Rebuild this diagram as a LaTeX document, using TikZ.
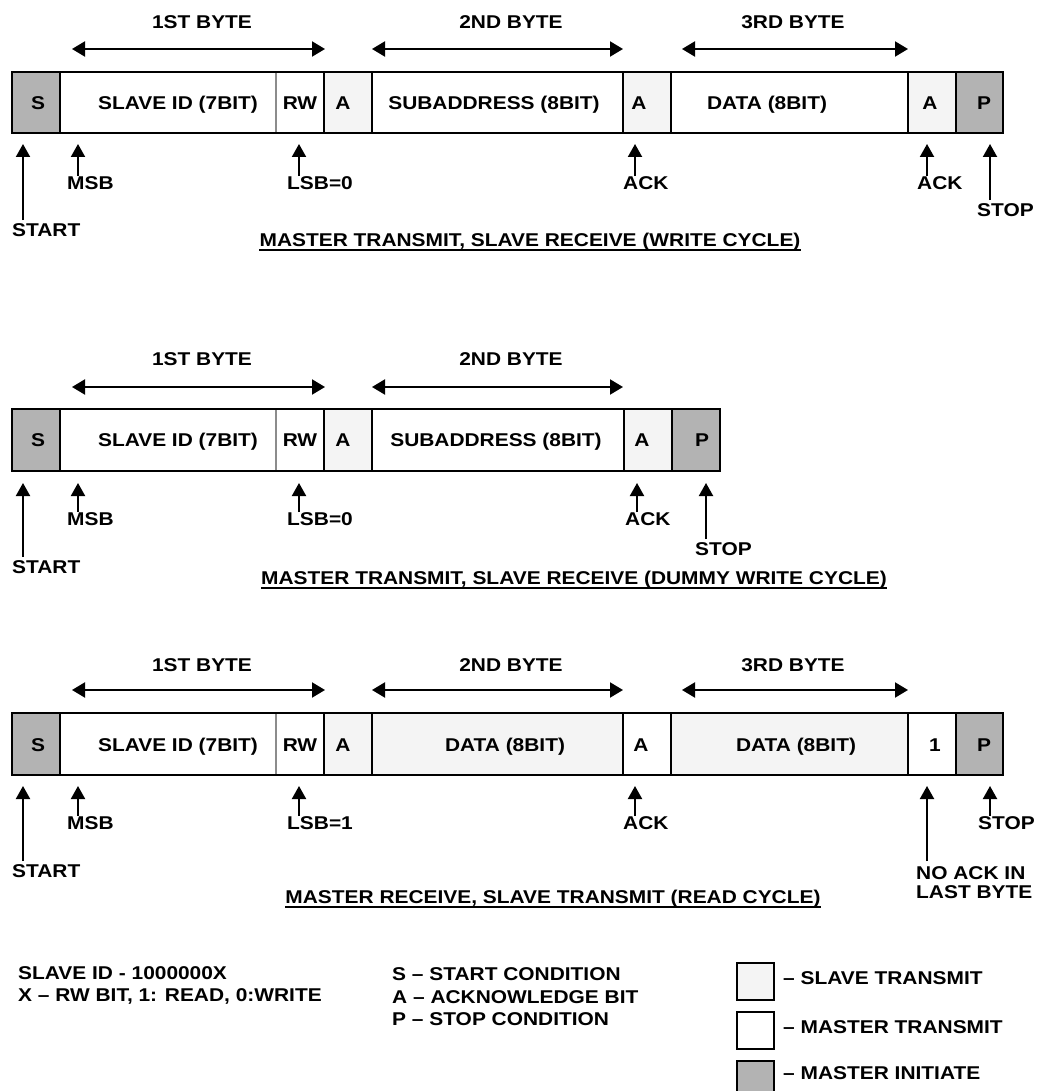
\documentclass[tikz,border=0pt]{standalone}
\usepackage{fontspec}
\setmainfont[FakeStretch=1.13]{Liberation Sans}
\usetikzlibrary{arrows.meta,calc}
\definecolor{mgray}{HTML}{B3B3B3}
\definecolor{slight}{HTML}{F4F4F4}
\definecolor{sepgray}{HTML}{8C8C8C}
\tikzset{
  txt/.style={inner sep=0pt, text height=13.2pt, text depth=0pt, font=\fontsize{18.5}{22}\selectfont\bfseries},
  lbl/.style={txt, anchor=west},
  cellbox/.style={inner sep=0pt, minimum height=61pt, draw=none},
  frame/.style={line width=2pt},
  sepline/.style={line width=2pt},
  thinsep/.style={line width=1.5pt, draw=sepgray},
  upar/.style={line width=2pt, -{Triangle[length=13pt,width=14pt]}},
  bytear/.style={line width=2pt, {Triangle[length=13pt,width=15pt]}-{Triangle[length=13pt,width=15pt]}},
  legbox/.style={draw, line width=2pt, minimum width=37pt, minimum height=37pt, inner sep=0pt},
  uline/.style={line width=2.3pt},
}
\newcommand\bcell[6]{%
  \node[cellbox, fill=#4, minimum width={(#3-#2)*1pt}] (#1) at ({(#2+#3)/2},#5) {};}
\begin{document}
\begin{tikzpicture}[x=1pt,y=-1pt]
\useasboundingbox[fill=white] (0,0) rectangle (1048,1091);

% ================= ROW A : WRITE CYCLE =================
\bcell{aS}{12}{60}{mgray}{102.5}{}
\bcell{aID}{60}{276}{white}{102.5}{}
\bcell{aRW}{276}{324}{white}{102.5}{}
\bcell{aA1}{324}{372}{slight}{102.5}{}
\bcell{aSUB}{372}{623}{white}{102.5}{}
\bcell{aA2}{623}{671}{slight}{102.5}{}
\bcell{aDAT}{671}{908}{white}{102.5}{}
\bcell{aA3}{908}{956}{slight}{102.5}{}
\bcell{aP}{956}{1003}{mgray}{102.5}{}
\draw[thinsep] (aID.north east) -- (aID.south east);
\foreach \c in {aS,aRW,aA1,aSUB,aA2,aDAT,aA3}{\draw[sepline] (\c.north east) -- (\c.south east);}
\draw[frame] (aS.north west) rectangle (aP.south east);
\node[txt] (aSt) at (38,102.5) {S};
\node[txt] (aIDt) at (178,102.5) {SLAVE ID (7BIT)};
\node[txt] (aRWt) at (300,102.5) {RW};
\node[txt] (aA1t) at (343,102.5) {A};
\node[txt] (aSUBt) at (494,102.5) {SUBADDRESS (8BIT)};
\node[txt] (aA2t) at (639,102.5) {A};
\node[txt] (aDATt) at (767,102.5) {DATA (8BIT)};
\node[txt] (aA3t) at (930,102.5) {A};
\node[txt] (aPt) at (984,102.5) {P};
% byte arrows
\node[txt] (aB1) at (202,22) {1ST BYTE};
\node[txt] (aB2) at (511,22) {2ND BYTE};
\node[txt] (aB3) at (793,22) {3RD BYTE};
\coordinate (aB1l) at (72,49); \coordinate (aB1r) at (325,49);
\coordinate (aB2l) at (372,49); \coordinate (aB2r) at (623,49);
\coordinate (aB3l) at (682,49); \coordinate (aB3r) at (908,49);
\draw[bytear] (aB1l) -- (aB1r);
\draw[bytear] (aB2l) -- (aB2r);
\draw[bytear] (aB3l) -- (aB3r);
% pointers
\node[lbl] (aStart) at (12,230) {START};
\node[lbl] (aMsb) at (67,183) {MSB};
\node[lbl] (aLsb) at (287,183) {LSB=0};
\node[lbl] (aAck1) at (623,183) {ACK};
\node[lbl] (aAck2) at (917,183) {ACK};
\node[lbl] (aStop) at (977,210) {STOP};
\coordinate (aTs) at (23,144); \coordinate (aTm) at (78,144);
\coordinate (aTl) at (299,144); \coordinate (aTa1) at (635,144);
\coordinate (aTa2) at (927,144); \coordinate (aTp) at (990,144);
\draw[upar] ($(aStart.north -| aTs)+(0,-3)$) -- (aTs);
\draw[upar] (aMsb.north -| aTm) -- (aTm);
\draw[upar] (aLsb.north -| aTl) -- (aTl);
\draw[upar] (aAck1.north -| aTa1) -- (aTa1);
\draw[upar] (aAck2.north -| aTa2) -- (aTa2);
\draw[upar] ($(aStop.north -| aTp)+(0,-3)$) -- (aTp);
\node[txt] (aTitle) at (530,240) {MASTER TRANSMIT, SLAVE RECEIVE (WRITE CYCLE)};
\draw[uline] ($(aTitle.south west)+(0,3.5)$) -- ($(aTitle.south east)+(0,3.5)$);

% ================= ROW B : DUMMY WRITE =================
\bcell{bS}{12}{60}{mgray}{440}{}
\bcell{bID}{60}{276}{white}{440}{}
\bcell{bRW}{276}{324}{white}{440}{}
\bcell{bA1}{324}{372}{slight}{440}{}
\bcell{bSUB}{372}{624}{white}{440}{}
\bcell{bA2}{624}{672}{slight}{440}{}
\bcell{bP}{672}{720}{mgray}{440}{}
\draw[thinsep] (bID.north east) -- (bID.south east);
\foreach \c in {bS,bRW,bA1,bSUB,bA2}{\draw[sepline] (\c.north east) -- (\c.south east);}
\draw[frame] (bS.north west) rectangle (bP.south east);
\node[txt] (bSt) at (38,440) {S};
\node[txt] (bIDt) at (178,440) {SLAVE ID (7BIT)};
\node[txt] (bRWt) at (300,440) {RW};
\node[txt] (bA1t) at (343,440) {A};
\node[txt] (bSUBt) at (496,440) {SUBADDRESS (8BIT)};
\node[txt] (bA2t) at (642,440) {A};
\node[txt] (bPt) at (702,440) {P};
\node[txt] (bB1) at (202,359) {1ST BYTE};
\node[txt] (bB2) at (511,359) {2ND BYTE};
\coordinate (bB1l) at (72,387); \coordinate (bB1r) at (325,387);
\coordinate (bB2l) at (372,387); \coordinate (bB2r) at (623,387);
\draw[bytear] (bB1l) -- (bB1r);
\draw[bytear] (bB2l) -- (bB2r);
\node[lbl] (bStart) at (12,567) {START};
\node[lbl] (bMsb) at (67,519) {MSB};
\node[lbl] (bLsb) at (287,519) {LSB=0};
\node[lbl] (bAck1) at (625,519) {ACK};
\node[lbl] (bStop) at (695,549) {STOP};
\coordinate (bTs) at (23,483); \coordinate (bTm) at (78,483);
\coordinate (bTl) at (299,483); \coordinate (bTa1) at (637,483);
\coordinate (bTp) at (706,483);
\draw[upar] ($(bStart.north -| bTs)+(0,-3)$) -- (bTs);
\draw[upar] (bMsb.north -| bTm) -- (bTm);
\draw[upar] (bLsb.north -| bTl) -- (bTl);
\draw[upar] (bAck1.north -| bTa1) -- (bTa1);
\draw[upar] ($(bStop.north -| bTp)+(0,-3)$) -- (bTp);
\node[txt] (bTitle) at (574,578) {MASTER TRANSMIT, SLAVE RECEIVE (DUMMY WRITE CYCLE)};
\draw[uline] ($(bTitle.south west)+(0,3.5)$) -- ($(bTitle.south east)+(0,3.5)$);

% ================= ROW C : READ CYCLE =================
\bcell{cS}{12}{60}{mgray}{744}{}
\bcell{cID}{60}{276}{white}{744}{}
\bcell{cRW}{276}{324}{white}{744}{}
\bcell{cA1}{324}{372}{slight}{744}{}
\bcell{cD1}{372}{623}{slight}{744}{}
\bcell{cA2}{623}{671}{white}{744}{}
\bcell{cD2}{671}{908}{slight}{744}{}
\bcell{cOne}{908}{956}{white}{744}{}
\bcell{cP}{956}{1003}{mgray}{744}{}
\draw[thinsep] (cID.north east) -- (cID.south east);
\foreach \c in {cS,cRW,cA1,cD1,cA2,cD2,cOne}{\draw[sepline] (\c.north east) -- (\c.south east);}
\draw[frame] (cS.north west) rectangle (cP.south east);
\node[txt] (cSt) at (38,745) {S};
\node[txt] (cIDt) at (178,745) {SLAVE ID (7BIT)};
\node[txt] (cRWt) at (300,745) {RW};
\node[txt] (cA1t) at (343,745) {A};
\node[txt] (cD1t) at (505,745) {DATA (8BIT)};
\node[txt] (cA2t) at (641,745) {A};
\node[txt] (cD2t) at (796,745) {DATA (8BIT)};
\node[txt] (cOnet) at (935,745) {1};
\node[txt] (cPt) at (984,745) {P};
\node[txt] (cB1) at (202,665) {1ST BYTE};
\node[txt] (cB2) at (511,665) {2ND BYTE};
\node[txt] (cB3) at (793,665) {3RD BYTE};
\coordinate (cB1l) at (72,690); \coordinate (cB1r) at (325,690);
\coordinate (cB2l) at (372,690); \coordinate (cB2r) at (623,690);
\coordinate (cB3l) at (682,690); \coordinate (cB3r) at (908,690);
\draw[bytear] (cB1l) -- (cB1r);
\draw[bytear] (cB2l) -- (cB2r);
\draw[bytear] (cB3l) -- (cB3r);
\node[lbl] (cStart) at (12,871) {START};
\node[lbl] (cMsb) at (67,823) {MSB};
\node[lbl] (cLsb) at (287,823) {LSB=1};
\node[lbl] (cAck1) at (623,823) {ACK};
\node[lbl] (cNo1) at (916,873) {NO ACK IN};
\node[lbl] (cNo2) at (916,892) {LAST BYTE};
\node[lbl] (cStop) at (978,823) {STOP};
\coordinate (cTs) at (23,786); \coordinate (cTm) at (78,786);
\coordinate (cTl) at (299,786); \coordinate (cTa1) at (635,786);
\coordinate (cTn) at (927,786); \coordinate (cTp) at (990,786);
\draw[upar] ($(cStart.north -| cTs)+(0,-3)$) -- (cTs);
\draw[upar] (cMsb.north -| cTm) -- (cTm);
\draw[upar] (cLsb.north -| cTl) -- (cTl);
\draw[upar] (cAck1.north -| cTa1) -- (cTa1);
\draw[upar] ($(cNo1.north -| cTn)+(0,-5)$) -- (cTn);
\draw[upar] (cStop.north -| cTp) -- (cTp);
\node[txt] (cTitle) at (553,897) {MASTER RECEIVE, SLAVE TRANSMIT (READ CYCLE)};
\draw[uline] ($(cTitle.south west)+(0,3.5)$) -- ($(cTitle.south east)+(0,3.5)$);

% ================= LEGEND =================
\node[lbl] (k1) at (18,973) {SLAVE ID - 1000000X};
\node[lbl] (k2) at (18,995) {X – RW BIT, 1: READ, 0:WRITE};
\node[lbl] (k3) at (392,974) {S – START CONDITION};
\node[lbl] (k4) at (392,997) {A – ACKNOWLEDGE BIT};
\node[lbl] (k5) at (392,1019) {P – STOP CONDITION};
\node[legbox, fill=slight] (lg1) at (755.5,981.5) {};
\node[legbox, fill=white] (lg2) at (755.5,1030) {};
\node[legbox, fill=mgray] (lg3) at (755.5,1079) {};
\node[lbl] (lg1t) at (783,978) {– SLAVE TRANSMIT};
\node[lbl] (lg2t) at (783,1027) {– MASTER TRANSMIT};
\node[lbl] (lg3t) at (783,1073) {– MASTER INITIATE};
\end{tikzpicture}
\end{document}
